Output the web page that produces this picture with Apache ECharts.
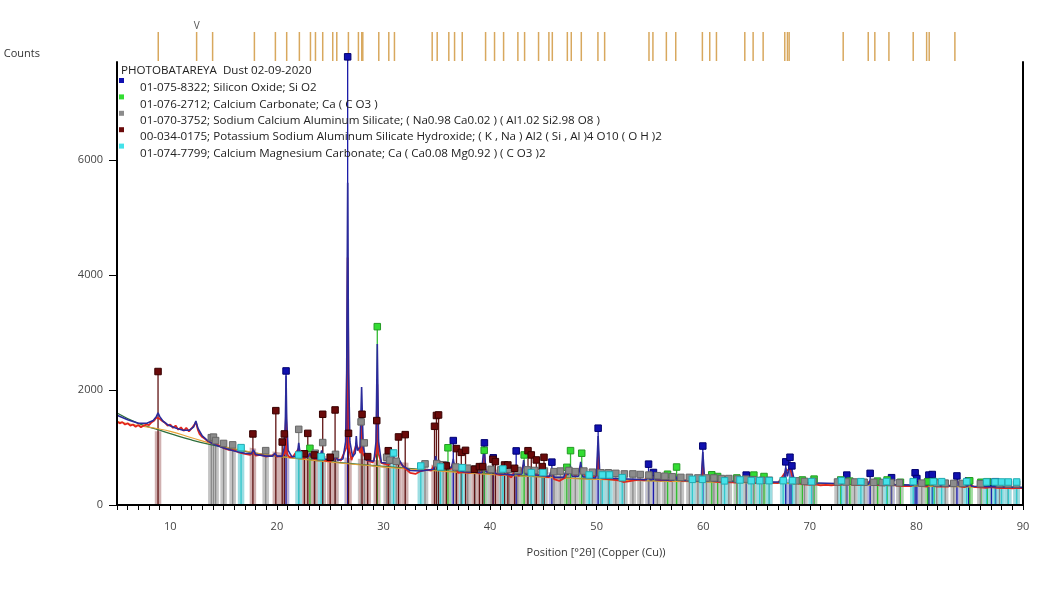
<!DOCTYPE html>
<html>
<head>
<meta charset="utf-8">
<title>PHOTOBATAREYA Dust 02-09-2020</title>
<script src="https://cdn.jsdelivr.net/npm/echarts@6/dist/echarts.min.js"></script>
<style>
  html, body { margin: 0; padding: 0; background: #fff; }
  #chart { width: 1048px; height: 589px; }
</style>
</head>
<body>
<div id="chart"></div>
<script>
(function () {
  'use strict';

  const FONT = '"Open Sans", "DejaVu Sans", sans-serif';

  // measured pattern, [2theta, counts]
  const obsPts = [
    [5,1450],[5.25,1420],[5.5,1440],[5.75,1400],[6,1420],[6.25,1380],[6.5,1400],[6.75,1360],[7,1390],[7.25,1350],
    [7.5,1380],[7.75,1400],[8,1390],[8.25,1440],[8.5,1470],[8.7,1520],[8.85,1550],[9,1500],[9.25,1460],[9.5,1430],
    [9.75,1380],[10,1400],[10.25,1340],[10.5,1380],[10.75,1310],[11,1350],[11.25,1290],[11.5,1340],[11.75,1280],[12,1330],
    [12.2,1380],[12.4,1440],[12.6,1300],[12.75,1230],[13,1180],[13.25,1150],[13.5,1110],[13.75,1090],[14,1070],[14.5,1040],
    [15,990],[15.5,960],[16,950],[16.5,910],[17,890],[17.5,870],[17.8,930],[18,860],[18.5,870],[19,840],
    [19.5,860],[19.8,880],[20,840],[20.5,850],[20.76,900],[20.86,1650],[20.96,880],[21.2,830],[21.5,840],[22.05,980],
    [22.5,810],[23.1,860],[23.5,800],[24,790],[24.2,900],[24.5,770],[25,760],[25.5,820],[26,770],[26.52,1000],
    [26.64,4300],[26.76,1000],[27,780],[27.45,1050],[27.85,900],[27.95,1600],[28.05,900],[28.5,770],[29,740],[29.32,900],
    [29.42,2100],[29.52,900],[29.8,730],[30,720],[30.5,700],[30.9,830],[31.2,700],[31.5,750],[32,640],[32.5,560],
    [33,540],[33.5,590],[34,610],[34.5,600],[34.9,760],[35.2,620],[35.5,640],[36,700],[36.3,620],[36.55,740],
    [37,560],[37.5,570],[38,560],[38.5,580],[39,550],[39.35,620],[39.45,900],[39.55,620],[39.8,560],[40.3,610],
    [40.5,540],[41,520],[41.5,540],[42,480],[42.45,650],[42.7,500],[43.15,700],[43.5,530],[44,540],[44.5,520],
    [45,500],[45.5,480],[45.8,580],[46,450],[46.5,420],[47,470],[47.5,650],[48,490],[48.5,680],[49,480],
    [49.5,470],[50.04,520],[50.14,950],[50.24,520],[50.5,460],[51,450],[51.5,440],[52,430],[52.5,400],[53,410],
    [53.5,430],[54,440],[54.5,430],[54.87,540],[55.3,490],[55.7,440],[56,430],[56.5,440],[57,420],[57.4,470],
    [58,420],[58.5,430],[59,410],[59.5,420],[59.86,460],[59.96,760],[60.06,460],[60.4,420],[60.7,490],[61,410],
    [61.5,400],[62,390],[62.5,400],[63,390],[63.5,400],[64,450],[64.5,390],[65,380],[65.6,420],[66,380],
    [66.5,390],[67,380],[67.74,580],[68.14,640],[68.5,420],[69,370],[69.5,360],[70,350],[70.5,360],[71,340],
    [71.5,350],[72,340],[72.5,350],[73,355],[73.5,400],[74,350],[74.5,345],[75,350],[75.7,410],[76,345],
    [76.5,350],[77,340],[77.7,390],[78,340],[78.5,330],[79,335],[79.5,330],[79.9,390],[80.5,330],[81,320],
    [81.2,370],[81.8,325],[82,320],[82.5,325],[83,320],[83.8,420],[84.2,320],[84.5,310],[85,350],[85.5,310],
    [86,305],[86.5,300],[87,310],[87.5,300],[88,295],[88.5,300],[89,290],[89.5,300],[90,295]
  ];

  // calculated profile
  const fitPts = [
    [5,1560],[6,1480],[7,1420],[7.8,1420],[8.4,1470],[8.7,1540],[8.85,1600],[9,1540],[9.3,1460],[9.8,1390],
    [10.5,1340],[11.2,1300],[11.8,1300],[12.2,1360],[12.4,1460],[12.6,1330],[13,1200],[13.5,1120],[14,1060],[15,990],
    [16,940],[17,900],[17.6,890],[17.8,960],[18,880],[19,850],[19.6,850],[19.8,900],[20,850],[20.5,850],
    [20.7,1000],[20.8,1500],[20.86,2250],[20.92,1500],[21.05,950],[21.4,840],[21.9,850],[22.05,1080],[22.2,860],[22.9,830],
    [23.1,900],[23.3,820],[24,800],[24.2,950],[24.4,800],[25.3,780],[25.5,850],[25.7,780],[26.2,800],[26.45,1100],
    [26.55,2300],[26.64,5600],[26.73,2300],[26.85,1100],[27.1,840],[27.35,900],[27.45,1200],[27.55,950],[27.8,1000],[27.95,2050],
    [28.1,1000],[28.4,780],[29.1,760],[29.3,1100],[29.42,2800],[29.54,1100],[29.8,740],[30.7,720],[30.9,900],[31.1,720],
    [31.5,780],[31.8,680],[32.5,600],[33.5,590],[34.7,620],[34.9,850],[35.1,640],[35.8,640],[36,750],[36.2,640],
    [36.4,660],[36.55,800],[36.7,620],[37.5,580],[39.2,560],[39.45,1050],[39.6,580],[40.1,560],[40.3,650],[40.5,550],
    [42.25,520],[42.45,700],[42.6,530],[43,540],[43.15,780],[43.3,540],[45.6,500],[45.8,620],[46,480],[46.9,480],
    [47.15,600],[47.3,520],[47.5,700],[47.7,500],[48.3,500],[48.5,750],[48.7,490],[49.9,470],[50,600],[50.14,1200],
    [50.28,600],[50.45,470],[54.7,440],[54.87,580],[55,440],[55.2,440],[55.33,520],[55.5,440],[57.2,430],[57.4,500],
    [57.6,430],[59.8,420],[59.96,920],[60.1,520],[60.3,420],[60.5,420],[60.7,520],[60.9,420],[63.8,410],[64,480],
    [64.2,410],[65.4,400],[65.6,450],[65.8,400],[67.5,400],[67.74,650],[67.9,500],[68.14,720],[68.32,620],[68.55,420],
    [69,390],[73.3,370],[73.5,430],[73.7,370],[75.5,360],[75.7,440],[75.9,360],[77.5,355],[77.7,420],[77.9,355],
    [79.7,345],[79.9,420],[80.1,380],[80.3,345],[81,340],[81.2,400],[81.5,390],[81.7,340],[83.6,330],[83.8,460],
    [84,340],[84.8,330],[85,380],[85.2,325],[90,305]
  ];

  // background
  const bgPts = [
    [5,1600],[7,1420],[9,1300],[10,1240],[12,1130],[14,1040],[16,970],[18,900],[20,850],[24,770],
    [28,700],[32,640],[36,590],[40,540],[45,490],[50,450],[55,425],[60,405],[65,390],[70,370],
    [75,355],[80,335],[85,320],[90,305]
  ];
  const orangePts = [
    [5,1450],[7,1380],[9,1320],[10,1280],[12,1170],[14,1060],[16,980],[18,905],[20,850],[24,765],
    [28,695],[32,630],[36,580],[40,530],[45,485],[50,445],[55,420],[60,400],[65,385],[70,365],
    [75,350],[80,330],[85,315],[90,300]
  ];
  // top of the pale reference bars
  const paleTopPts = [
    [5,1300],[9,1280],[12,1200],[14,1190],[16,1060],[18,980],[20,920],[24,860],[28,800],[32,740],
    [36,680],[40,620],[45,580],[50,530],[55,500],[60,470],[65,450],[70,435],[75,420],[80,410],
    [85,405],[90,400]
  ];

  // reference patterns: [2theta, marker height]
  const quartzSticks = [
    [20.86,2330],[26.64,7790],[36.55,1120],[39.47,1080],[40.3,820],[42.45,940],[45.8,745],[50.14,1335],[54.87,710],[55.33,565],
    [59.96,1025],[64.03,520],[67.74,750],[68.14,830],[68.32,680],[73.47,520],[75.66,550],[77.67,475],[79.88,560],[80.04,460],
    [81.17,520],[81.49,530],[83.8,505],[84.9,420],[87.04,395],[87.43,405]
  ];
  const calciteSticks = [
    [23.1,985],[29.42,3100],[36.05,995],[39.45,950],[43.2,870],[47.2,655],[47.55,945],[48.6,900],[56.65,535],[57.5,660],
    [60.8,525],[61.35,495],[63.15,470],[64.75,520],[65.7,495],[69.3,435],[70.4,450],[72.9,435],[73.75,415],[76.35,415],
    [77.25,435],[78.5,395],[81.05,405],[81.65,405],[85,420],[86.05,395],[86.65,405]
  ];
  const albiteSticks = [
    [13.85,1170],[14.05,1180],[14.25,1120],[15,1070],[15.85,1045],[18.95,945],[22.05,1315],[23.6,900],[24.3,1085],[25.5,880],
    [27.9,1445],[28.2,1080],[30.3,830],[30.6,780],[31.2,760],[33.9,715],[35,720],[35.6,700],[36.8,660],[37.9,640],
    [38.6,630],[39.3,650],[40.1,620],[41,610],[41.8,620],[42.6,600],[43.5,610],[44.2,600],[45.1,590],[46,580],
    [46.6,590],[47.4,600],[48,580],[48.8,590],[49.6,570],[50.4,560],[51.1,560],[51.8,550],[52.6,540],[53.4,540],
    [54.1,530],[54.9,520],[55.7,510],[56.4,500],[57.1,490],[57.9,480],[58.7,480],[59.5,470],[60.3,470],[61,470],
    [61.7,460],[62.4,460],[63.2,450],[64,450],[64.7,440],[65.5,430],[66.2,430],[68.7,420],[69.5,410],[70.3,410],
    [72.6,400],[73.4,400],[74.2,400],[75.1,395],[76,395],[76.8,390],[77.6,390],[78.4,385],[80.5,380],[81.9,380],
    [82.7,380],[83.5,375],[84.3,375],[86,370],[87.8,370],[88.6,365],[89.4,365]
  ];
  const micaSticks = [
    [8.85,2320],[17.75,1235],[19.9,1640],[20.5,1095],[20.7,1235],[22.58,890],[22.9,1245],[23.52,870],[24.3,1577],[25,830],
    [25.46,1652],[26.72,1246],[27.99,1577],[28.52,841],[29.37,1467],[30.45,944],[31.41,1183],[32.04,1223],[34.79,1368],[34.97,1556],
    [35.17,1565],[35.9,680],[36.85,980],[37.3,915],[37.7,950],[38.54,620],[39,667],[39.3,667],[40.27,794],[40.5,754],
    [41.36,696],[41.67,696],[42.3,638],[43.56,944],[43.87,870],[44.34,783],[44.9,667],[45.06,829]
  ];
  const dolomiteSticks = [
    [16.64,997],[22.05,870],[24.15,841],[30.95,904],[33.5,678],[35.35,661],[37.38,649],[41.2,626],[43.87,562],[44.96,562],
    [49.3,522],[50.53,522],[51.2,522],[52.4,475],[58.98,446],[59.92,446],[62,420],[63.45,435],[64.5,423],[65.3,423],
    [66.18,423],[67.5,423],[68.37,423],[70.16,406],[72.97,423],[74.79,406],[77.2,406],[79.7,406],[81.58,406],[82.37,406],
    [84.72,406],[86.58,400],[87.37,400],[87.99,400],[88.62,400],[89.4,400]
  ];

  // peak list shown in the strip above the plot
  const peakListPos = [
    8.87,12.47,13.97,17.89,19.86,20.92,22.11,23.15,23.62,24.3,25.24,25.62,26.71,27.65,27.96,28.06,29.56,30.5,31.03,
    34.57,35.04,36.13,36.67,37.39,39.58,40.42,41.27,42.61,43.24,44.55,45.52,45.84,47.25,47.62,48.56,50.12,50.75,
    54.91,55.28,56.54,57.42,59.92,60.61,61.24,63.9,64.68,65.62,67.65,67.9,68.06,73.13,75.48,76.1,77.42,79.7,
    80.96,81.2,83.61
  ];
  const flaggedPeak = 12.47;

  const sampleTitle = 'PHOTOBATAREYA  Dust 02-09-2020';
  const phaseNames = [
    '01-075-8322; Silicon Oxide; Si O2',
    '01-076-2712; Calcium Carbonate; Ca ( C O3 )',
    '01-070-3752; Sodium Calcium Aluminum Silicate; ( Na0.98 Ca0.02 ) ( Al1.02 Si2.98 O8 )',
    '00-034-0175; Potassium Sodium Aluminum Silicate Hydroxide; ( K , Na ) Al2 ( Si , Al )4 O10 ( O H )2',
    '01-074-7799; Calcium Magnesium Carbonate; Ca ( Ca0.08 Mg0.92 ) ( C O3 )2'
  ];

  const phases = [
    { sticks: quartzSticks,   line: '#1c1ca8', light: '#b4b4e2', fill: '#1010b0', border: '#000070' },
    { sticks: calciteSticks,  line: '#33bb33', light: '#a2dca2', fill: '#33dd33', border: '#249a24' },
    { sticks: albiteSticks,   line: '#8a8a8a', light: '#c4c4c4', fill: '#8c8c8c', border: '#666' },
    { sticks: micaSticks,     line: '#601414', light: '#d0b0b0', fill: '#6a0a0a', border: '#380000' },
    { sticks: dolomiteSticks, line: '#33c8cc', light: '#9cdde2', fill: '#44e2ea', border: '#22aab0' }
  ];

  // pale bar under every reference line; the part above paleTopPts is hidden by a white cover
  function lightBars(p) {
    return {
      type: 'custom', data: p.sticks, z: 1, silent: true,
      encode: { x: 0, y: 1 },
      renderItem(params, api) {
        const a = api.coord([api.value(0), 0]);
        const b = api.coord([api.value(0), Math.min(api.value(1), 7700)]);
        return {
          type: 'rect',
          shape: { x: a[0] - 3.25, y: b[1], width: 6.5, height: a[1] - b[1] },
          style: { fill: p.light, stroke: null }
        };
      }
    };
  }

  function stickLines(p) {
    return {
      type: 'custom', data: p.sticks, z: 3, silent: true, clip: false,
      encode: { x: 0, y: 1 },
      renderItem(params, api) {
        const a = api.coord([api.value(0), 0]);
        const b = api.coord([api.value(0), api.value(1)]);
        return { type: 'line', shape: { x1: a[0], y1: a[1], x2: b[0], y2: b[1] }, style: { stroke: p.line, lineWidth: 1.3 } };
      }
    };
  }

  function stickMarkers(p) {
    return {
      type: 'scatter', data: p.sticks, symbol: 'rect', symbolSize: 6.5, z: 8, silent: true, clip: false,
      itemStyle: { color: p.fill, borderColor: p.border, borderWidth: 1, opacity: 1 }
    };
  }

  const series = [];
  phases.forEach(p => series.push(lightBars(p)));
  series.push({
    type: 'line', data: paleTopPts, smooth: true, symbol: 'none', z: 2, silent: true,
    lineStyle: { width: 0 }, areaStyle: { origin: 'end', color: '#fff', opacity: 1 }
  });
  phases.forEach(p => series.push(stickLines(p)));
  series.push(
    { type: 'line', data: bgPts, smooth: true, symbol: 'none', z: 4, silent: true, lineStyle: { color: '#2e6e3c', width: 1.3 } },
    { type: 'line', data: orangePts, smooth: true, symbol: 'none', z: 4, silent: true, lineStyle: { color: '#e6a236', width: 1.1 } },
    { type: 'line', data: obsPts, symbol: 'none', z: 5, silent: true, lineStyle: { color: '#e3261c', width: 1.8 } },
    { type: 'line', data: fitPts, symbol: 'none', z: 6, silent: true, lineStyle: { color: '#2b2b9b', width: 1.6 } }
  );
  phases.forEach(p => series.push(stickMarkers(p)));

  // strip of peak positions
  series.push({
    type: 'custom', xAxisIndex: 2, yAxisIndex: 2, silent: true,
    data: peakListPos.map(x => [x, 1]),
    encode: { x: 0, y: 1 },
    renderItem(params, api) {
      const a = api.coord([api.value(0), 0]);
      const b = api.coord([api.value(0), 1]);
      return { type: 'line', shape: { x1: a[0], y1: a[1], x2: b[0], y2: b[1] }, style: { stroke: '#d8a85e', lineWidth: 1.5 } };
    }
  });
  series.push({
    type: 'custom', xAxisIndex: 2, yAxisIndex: 2, silent: true, clip: false,
    data: [[flaggedPeak, 1]],
    encode: { x: 0, y: 1 },
    renderItem(params, api) {
      const b = api.coord([api.value(0), 1]);
      return { type: 'text', style: { x: b[0], y: b[1] - 1, text: 'V', fill: '#555', font: '10px ' + FONT, textAlign: 'center', textVerticalAlign: 'bottom' } };
    }
  });

  const graphic = [{
    type: 'text', left: 121, top: 65, z: 100, silent: true,
    style: { text: sampleTitle, fill: '#222', font: '11.6px ' + FONT }
  }];
  phaseNames.forEach((name, i) => {
    graphic.push({ type: 'rect', shape: { x: 119, y: 78 + i * 16.4, width: 5, height: 5 }, z: 100, silent: true,
      style: { fill: phases[i].fill } });
    graphic.push({ type: 'text', left: 140, top: 82 + i * 16.35, z: 100, silent: true,
      style: { text: name, fill: '#222', font: '11.6px ' + FONT } });
  });

  const chart = echarts.init(document.getElementById('chart'));
  chart.setOption({
    animation: false,
    backgroundColor: '#fff',
    grid: [
      { left: 117, right: 25, top: 62, bottom: 84 },
      { left: 117, right: 25, top: 32, height: 29 }
    ],
    xAxis: [
      {
        gridIndex: 0, type: 'value', min: 5, max: 90, interval: 5, z: 10,
        name: 'Position [°2θ] (Copper (Cu))', nameLocation: 'middle', nameGap: 42,
        nameTextStyle: { fontFamily: FONT, fontSize: 11, color: '#333', padding: [0, 0, 0, 52] },
        axisLine: { onZero: false, lineStyle: { color: '#000', width: 2 } },
        axisTick: { length: 5, lineStyle: { color: '#000', width: 1 } },
        minorTick: { show: true, splitNumber: 5, length: 5, lineStyle: { color: '#000', width: 1 } },
        axisLabel: { fontFamily: FONT, fontSize: 11, color: '#444', margin: 16,
          formatter: v => (v % 10 === 0 ? String(v) : '') },
        splitLine: { show: false }
      },
      {
        gridIndex: 0, type: 'value', min: 5, max: 90, position: 'top', z: 10,
        axisLine: { show: true, lineStyle: { color: '#000', width: 2 } },
        axisTick: { show: false }, axisLabel: { show: false }, splitLine: { show: false }
      },
      { gridIndex: 1, type: 'value', min: 5, max: 90, show: false }
    ],
    yAxis: [
      {
        gridIndex: 0, type: 'value', min: 0, max: 7700, interval: 2000, z: 10,
        name: 'Counts', nameLocation: 'end', nameGap: 3,
        nameTextStyle: { fontFamily: FONT, fontSize: 11, color: '#333', align: 'right', padding: [0, 77, 0, 0] },
        axisLine: { show: true, onZero: false, lineStyle: { color: '#000', width: 2 } },
        axisTick: { show: true, length: 8, lineStyle: { color: '#000', width: 1 }, customValues: [0, 2000, 4000, 6000] },
        axisLabel: { fontFamily: FONT, fontSize: 11, color: '#444', margin: 14, showMaxLabel: false,
          formatter: v => String(v) },
        splitLine: { show: false }
      },
      {
        gridIndex: 0, type: 'value', min: 0, max: 7700, position: 'right', z: 10,
        axisLine: { show: true, onZero: false, lineStyle: { color: '#000', width: 2 } },
        axisTick: { show: false }, axisLabel: { show: false }, splitLine: { show: false }
      },
      { gridIndex: 1, type: 'value', min: 0, max: 1, show: false }
    ],
    graphic,
    series
  });

  window.addEventListener('resize', () => chart.resize());
})();
</script>
</body>
</html>
